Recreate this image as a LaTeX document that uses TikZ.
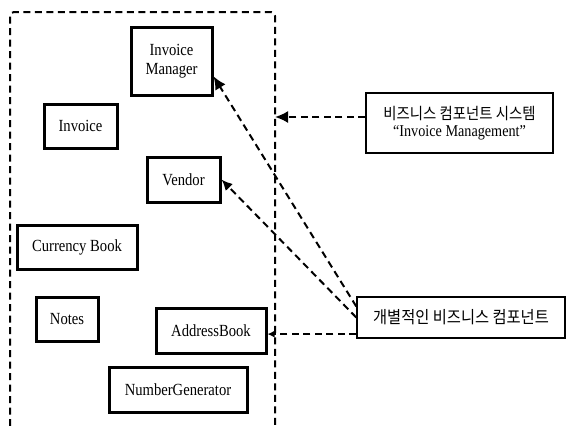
\documentclass[tikz,border=0pt]{standalone}
\usepackage{fontspec}
\usetikzlibrary{arrows.meta,calc}
\newfontfamily\narrowserif[FakeStretch=0.86]{Liberation Serif}
\newfontfamily\kor[FakeStretch=0.9]{Noto Sans CJK KR}
\begin{document}
\begin{tikzpicture}[x=1pt,y=1pt,
  compbox/.style={draw, line width=3pt, align=center, inner sep=0pt,
    font=\narrowserif\fontsize{17}{19}\selectfont},
  notebox/.style={draw, line width=1.4pt, align=center, inner sep=0pt},
  dashline/.style={line width=2pt, dash pattern=on 7pt off 4.5pt},
  headtip/.style={-{Latex[length=13pt,width=12pt]}}
]
\useasboundingbox (0,0) rectangle (566,-426);

% component system boundary (open at the bottom)
\draw[dashline, rounded corners=4pt] (10,-426) -- (10,-12) -- (275,-12) -- (275,-426);

% components
\node[compbox, minimum width=81pt, minimum height=68pt] (imgr) at (171.5,-61) {Invoice\\Manager};
\node[compbox, minimum width=73pt, minimum height=44pt] (inv) at (80.5,-126) {Invoice};
\node[compbox, minimum width=73pt, minimum height=45pt] (vendor) at (183.5,-179.5) {Vendor};
\node[compbox, minimum width=120pt, minimum height=44pt] (cur) at (77,-247) {Currency Book};
\node[compbox, minimum width=62pt, minimum height=44pt] (notes) at (67,-319) {Notes};
\node[compbox, minimum width=110pt, minimum height=45pt] (addr) at (211,-330.5) {AddressBook};
\node[compbox, minimum width=138pt, minimum height=45pt] (numgen) at (178,-389.5) {NumberGenerator};

% explanatory notes
\node[notebox, minimum width=187pt, minimum height=60pt] (sys) at (459.5,-123)
  {{\kor\fontsize{16}{18}\selectfont 비즈니스 컴포넌트 시스템}\\[4pt]
   {\narrowserif\fontsize{16.5}{18}\selectfont “Invoice Management”}};
\node[notebox, minimum width=208pt, minimum height=41pt] (single) at (461,-317.5)
  {\kor\fontsize{17}{19}\selectfont 개별적인 비즈니스 컴포넌트};

\coordinate (sysedge) at (275,-117);

% connectors
\draw[dashline, headtip] (sys.west |- sysedge) -- (sysedge);
\draw[dashline, headtip] (single.174) -- (imgr.-20);
\draw[dashline, -{Latex[length=11pt,width=10pt]}] (single.west) -- (vendor.east);
\draw[dashline, -{Latex[length=7pt,width=7pt]}] (single.189) -- (single.189 -| addr.east);
\end{tikzpicture}
\end{document}
